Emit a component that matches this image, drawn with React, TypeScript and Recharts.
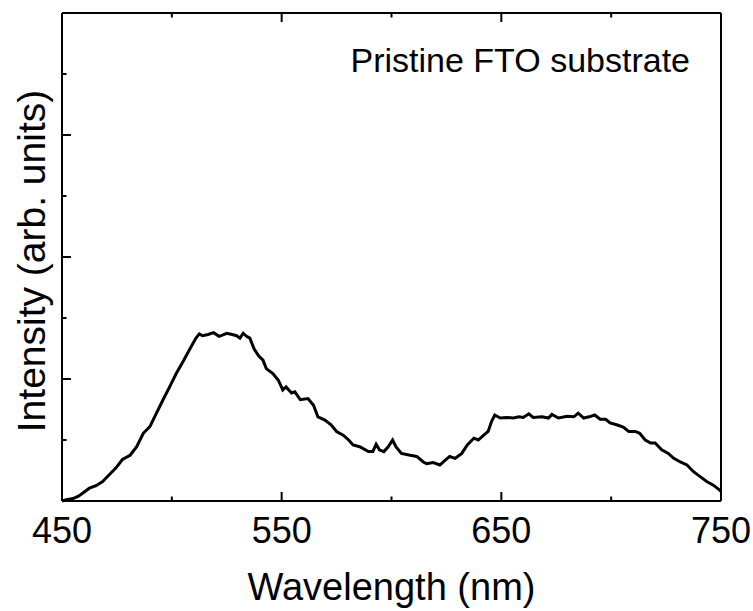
import React from "react";
import { LineChart, Line, XAxis, YAxis } from "recharts";

// spectrum (nm / arb. units, 1 unit = one minor y tick)
const wavelength = [
  450, 452, 455, 457.5, 459.5, 462.5, 465.5, 468.5, 471.5, 474.5, 477.5, 481, 484, 487, 490, 493, 496, 499,
  502, 505, 508, 511, 512.5, 514, 516.5, 519, 521.5, 523, 525, 527.5, 529.5, 531, 532.5, 534, 535.5,
  537.5, 539.5, 541.5, 543, 546, 548.5, 550.5, 552, 554.5, 556, 558.5, 562, 564.5, 566.5, 569.5, 572.5,
  575, 578, 580.5, 582.5, 585.5, 589.5, 591.5, 593, 594.5, 596.5, 598.5, 600.5, 602, 604.5, 608.5,
  611.5, 614.5, 616, 619, 622, 624.5, 626.5, 629, 632, 634.5, 637.5, 639.5, 642, 644, 645.5, 647,
  649.5, 652.5, 655.5, 658, 660, 662.5, 664.5, 668.5, 671.5, 673, 676, 680, 683, 685, 687.5, 690,
  692.5, 695, 697.5, 699.5, 702.5, 705.5, 708, 711, 713, 715.5, 718, 720, 723, 726, 728.5, 731.5,
  734.5, 737.5, 740.5, 743.5, 746.5, 749, 750,
];
const intensity = [
  0.0, 0.02, 0.04, 0.08, 0.13, 0.21, 0.25, 0.32, 0.43, 0.54, 0.68, 0.75, 0.89, 1.11, 1.22, 1.44, 1.66, 1.87,
  2.09, 2.28, 2.48, 2.67, 2.74, 2.71, 2.73, 2.76, 2.7, 2.72, 2.75, 2.73, 2.71, 2.67, 2.75, 2.7, 2.67,
  2.49, 2.38, 2.31, 2.17, 2.09, 1.98, 1.82, 1.87, 1.77, 1.79, 1.66, 1.68, 1.57, 1.38, 1.33, 1.25,
  1.14, 1.08, 1.0, 0.92, 0.89, 0.81, 0.81, 0.93, 0.84, 0.81, 0.89, 1.0, 0.89, 0.78, 0.75,
  0.73, 0.64, 0.61, 0.63, 0.59, 0.67, 0.73, 0.7, 0.78, 0.92, 1.03, 1.0, 1.08, 1.14, 1.3, 1.41,
  1.36, 1.37, 1.36, 1.38, 1.37, 1.43, 1.37, 1.38, 1.36, 1.42, 1.36, 1.39, 1.38, 1.44, 1.36, 1.38,
  1.41, 1.34, 1.34, 1.28, 1.25, 1.21, 1.14, 1.14, 1.11, 1.0, 0.95, 0.95, 0.84, 0.78, 0.7, 0.64,
  0.59, 0.48, 0.4, 0.32, 0.26, 0.19, 0.16,
];
const xTicks = [450, 500, 550, 600, 650, 700, 750];
const yTicks = [0, 1, 2, 3, 4, 5, 6, 7, 8];

const FONT = '"Liberation Sans", Arial, Helvetica, sans-serif';
const MAJOR = 9;
const MINOR = 4.5;

const data = wavelength.map((wl, i) => ({ wl, val: intensity[i] }));

const isMajorX = (v: number) => v % 100 === 50;
const isMajorY = (v: number) => v % 2 === 0;

function BottomTick(props: any) {
  const { x, y, payload } = props;
  const major = isMajorX(payload.value);
  return (
    <g>
      <line x1={x} x2={x} y1={y} y2={y - (major ? MAJOR : MINOR)} stroke="#000" strokeWidth={2} />
      {major && (
        <text x={x} y={y + 42} textAnchor="middle" fontSize={36} fontFamily={FONT} fill="#000">
          {payload.value}
        </text>
      )}
    </g>
  );
}

function TopTick(props: any) {
  const { x, y, payload } = props;
  const len = isMajorX(payload.value) ? MAJOR : MINOR;
  return <line x1={x} x2={x} y1={y} y2={y + len} stroke="#000" strokeWidth={2} />;
}

function LeftTick(props: any) {
  const { x, y, payload } = props;
  const len = isMajorY(payload.value) ? MAJOR : MINOR;
  return <line x1={x} x2={x + len} y1={y} y2={y} stroke="#000" strokeWidth={2} />;
}

function RightTick(props: any) {
  const { x, y, payload } = props;
  const len = isMajorY(payload.value) ? MAJOR : MINOR;
  return <line x1={x} x2={x - len} y1={y} y2={y} stroke="#000" strokeWidth={2} />;
}

const axisLine = { stroke: "#000", strokeWidth: 2 };

export default function App() {
  // pinned to the page corner so the whole 753x611 window is usable (no scrollbars)
  return (
    <div style={{ position: "absolute", left: 0, top: 0, width: 753, height: 611, overflow: "hidden" }}>
      <LineChart
        width={753}
        height={611}
        data={data}
        margin={{ top: 8, right: 22, left: 52, bottom: 0 }}
        style={{ overflow: "visible" }}
      >
        <XAxis
          dataKey="wl"
          type="number"
          domain={[450, 750]}
          ticks={xTicks}
          interval={0}
          height={110}
          tickSize={0}
          tickMargin={0}
          tickLine={false}
          axisLine={axisLine}
          tick={<BottomTick />}
          label={{
            content: (p: any) => (
              <text
                x={p.viewBox.x + p.viewBox.width / 2}
                y={p.viewBox.y + 99}
                textAnchor="middle"
                fontSize={38}
                fontFamily={FONT}
                fill="#000"
              >
                Wavelength (nm)
              </text>
            ),
          }}
        />
        <XAxis
          xAxisId="top"
          orientation="top"
          dataKey="wl"
          type="number"
          domain={[450, 750]}
          ticks={xTicks}
          interval={0}
          height={5}
          tickSize={0}
          tickMargin={0}
          tickLine={false}
          axisLine={axisLine}
          tick={<TopTick />}
          label={{
            content: (p: any) => (
              <text
                x={p.viewBox.x + p.viewBox.width - 31}
                y={72}
                textAnchor="end"
                fontSize={34}
                fontFamily={FONT}
                fill="#000"
              >
                Pristine FTO substrate
              </text>
            ),
          }}
        />
        <YAxis
          type="number"
          domain={[0, 8]}
          ticks={yTicks}
          interval={0}
          width={10}
          tickSize={0}
          tickMargin={0}
          tickLine={false}
          axisLine={axisLine}
          tick={<LeftTick />}
          label={{
            content: (p: any) => {
              const cx = 45;
              const cy = p.viewBox.y + p.viewBox.height / 2 + 4;
              return (
                <text
                  x={cx}
                  y={cy}
                  transform={`rotate(-90 ${cx} ${cy})`}
                  textAnchor="middle"
                  fontSize={39}
                  fontFamily={FONT}
                  fill="#000"
                >
                  Intensity (arb. units)
                </text>
              );
            },
          }}
        />
        <YAxis
          yAxisId="right"
          orientation="right"
          type="number"
          domain={[0, 8]}
          ticks={yTicks}
          interval={0}
          width={10}
          tickSize={0}
          tickMargin={0}
          tickLine={false}
          axisLine={axisLine}
          tick={<RightTick />}
        />
        <Line
          type="linear"
          dataKey="val"
          stroke="#000"
          strokeWidth={3}
          dot={false}
          isAnimationActive={false}
        />
      </LineChart>
    </div>
  );
}
